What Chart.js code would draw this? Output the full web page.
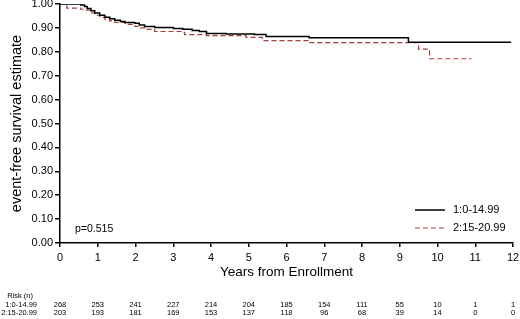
<!DOCTYPE html>
<html>
<head>
<meta charset="utf-8">
<script src="https://cdn.jsdelivr.net/npm/chart.js@4"></script>
<style>
  html, body { margin: 0; padding: 0; background: #fff; }
  #wrap { width: 520px; height: 319px; }
</style>
</head>
<body>
<div id="wrap"><canvas id="kmChart" width="520" height="319"></canvas></div>
<script>
// group 1 (0-14.99) step curve
var times1 = [0, 0.55, 0.65, 0.72, 0.82, 0.92, 1.05, 1.19, 1.32, 1.45, 1.6, 1.72, 1.98, 2.1, 2.24, 2.51, 3.0, 3.25, 3.5, 3.69, 3.88, 4.4, 5.15, 5.46, 6.6, 9.23, 11.95]
var surv1  = [1.0, 0.996, 0.99, 0.981, 0.972, 0.962, 0.953, 0.945, 0.938, 0.932, 0.927, 0.923, 0.919, 0.912, 0.906, 0.902, 0.898, 0.894, 0.889, 0.885, 0.877, 0.875, 0.872, 0.864, 0.859, 0.84, 0.84]

// group 2 (15-20.99) step curve
var times2 = [0, 0.18, 0.55, 0.66, 0.8, 0.92, 1.05, 1.19, 1.32, 1.45, 1.72, 1.98, 2.1, 2.24, 2.51, 3.22, 3.3, 3.88, 4.93, 5.36, 6.6, 9.5, 9.79, 10.9]
var surv2  = [1.0, 0.983, 0.978, 0.974, 0.963, 0.953, 0.944, 0.936, 0.929, 0.923, 0.915, 0.906, 0.9, 0.894, 0.885, 0.881, 0.872, 0.868, 0.86, 0.847, 0.838, 0.811, 0.771, 0.771]

var seriesNames = ['1:0-14.99', '2:15-20.99']
var riskYears = [0, 1, 2, 3, 4, 5, 6, 7, 8, 9, 10, 11, 12]
var risk1 = [268, 253, 241, 227, 214, 204, 185, 154, 111, 55, 10, 1, 1]
var risk2 = [203, 193, 181, 169, 153, 137, 118, 96, 68, 39, 14, 0, 0]
var pValue = 'p=0.515'

var toPoints = function(xs, ys){
  var pts = []
  for (let i = 0; i < xs.length; i++) {
    pts.push({x: xs[i], y: ys[i]})
  }
  return pts
}

var black = '#000000'
var red = '#a83c3c'
var fontFam = 'Arial, "Liberation Sans", sans-serif'

var extras = {
  id: 'extras',
  afterDraw: function(chart){
    var c = chart.ctx
    var xs = chart.scales.x
    c.save()
    // legend
    c.lineWidth = 1.5
    c.strokeStyle = black
    c.setLineDash([])
    c.beginPath(); c.moveTo(415, 210); c.lineTo(445, 210); c.stroke()
    c.strokeStyle = red
    c.lineWidth = 1.2
    c.setLineDash([5, 3])
    c.beginPath(); c.moveTo(415, 228); c.lineTo(445, 228); c.stroke()
    c.setLineDash([])
    c.fillStyle = '#000'
    c.font = '11px ' + fontFam
    c.textAlign = 'left'
    c.textBaseline = 'middle'
    c.fillText(seriesNames[0], 453, 210)
    c.fillText(seriesNames[1], 453, 228)
    // p value
    c.font = '10.5px ' + fontFam
    c.fillText(pValue, 75, 229)
    // risk table
    c.font = '7.5px ' + fontFam
    c.textAlign = 'right'
    c.fillText('Risk (n)', 33, 296)
    c.fillText(seriesNames[0], 37, 304.5)
    c.fillText(seriesNames[1], 37, 312.5)
    c.textAlign = 'center'
    for (let i = 0; i < riskYears.length; i++) {
      var px = xs.getPixelForValue(riskYears[i])
      if (i === riskYears.length - 1) px = Math.min(px, 516)
      c.fillText(String(risk1[i]), px, 304.5)
      c.fillText(String(risk2[i]), px, 312.5)
    }
    c.restore()
  }
}

var ctx = document.getElementById('kmChart')

var kmChart = new Chart(ctx, {
  type: 'line',
  data: {
    datasets: [{
      label: seriesNames[0],
      data: toPoints(times1, surv1),
      borderColor: black,
      borderWidth: 1.5,
      stepped: true,
      pointRadius: 0,
      fill: false
    }, {
      label: seriesNames[1],
      data: toPoints(times2, surv2),
      borderColor: red,
      borderWidth: 1.2,
      borderDash: [5, 3],
      stepped: true,
      pointRadius: 0,
      fill: false
    }]
  },
  options: {
    responsive: false,
    animation: false,
    layout: {
      padding: {top: 4, right: 7, bottom: 39, left: 0}
    },
    plugins: {
      legend: { display: false },
      tooltip: { enabled: false }
    },
    scales: {
      x: {
        type: 'linear',
        min: 0,
        max: 12,
        ticks: {
          stepSize: 1,
          color: '#000',
          padding: 4,
          font: { family: fontFam, size: 11 }
        },
        grid: {
          drawOnChartArea: false,
          drawTicks: true,
          tickLength: 4,
          color: '#000',
          lineWidth: 1.5
        },
        border: { display: true, color: '#000', width: 1.5 },
        title: {
          display: true,
          text: 'Years from Enrollment',
          color: '#000',
          padding: {top: 0, bottom: 0},
          font: { family: fontFam, size: 13.5 }
        },
        afterFit: function(s){ s.height = 37; s.paddingLeft = 0; s.paddingRight = 0 }
      },
      y: {
        min: 0,
        max: 1,
        ticks: {
          stepSize: 0.1,
          color: '#000',
          padding: 2,
          font: { family: fontFam, size: 11 },
          callback: function(v){ return Number(v).toFixed(2) }
        },
        grid: {
          drawOnChartArea: false,
          drawTicks: true,
          tickLength: 5,
          color: '#000',
          lineWidth: 1.5
        },
        border: { display: true, color: '#000', width: 1.5 },
        title: {
          display: true,
          text: 'event-free survival estimate',
          color: '#000',
          padding: {top: 8, bottom: 0},
          font: { family: fontFam, size: 14.5 }
        },
        afterFit: function(s){ s.width = 60; s.paddingTop = 0; s.paddingBottom = 0 }
      }
    }
  },
  plugins: [extras]
});
</script>
</body>
</html>
